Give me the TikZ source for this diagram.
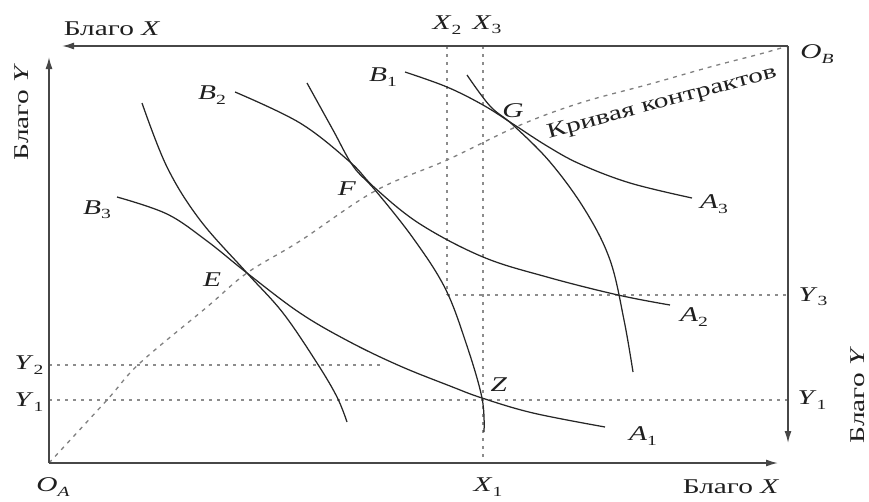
\documentclass[tikz,border=0pt]{standalone}
\usepackage{fontspec}
\setmainfont{Liberation Serif}[FakeStretch=1.4]
\usetikzlibrary{arrows.meta}
\newcommand{\lab}[2]{\textit{#1}\raisebox{-0.45ex}{\fontsize{14}{14}\selectfont #2}}
\begin{document}
\begin{tikzpicture}[x=1pt,y=-1pt,
  axis/.style={line width=1.5pt, draw=black!72, -{Latex[length=12pt,width=7pt]}},
  icurve/.style={line width=1.25pt, draw=black!85},
  guide/.style={line width=1.3pt, draw=black!45, dash pattern=on 3pt off 5pt},
  contract/.style={line width=1.3pt, draw=black!50, dash pattern=on 4pt off 5pt},
  lbl/.style={font=\fontsize{21}{21}\selectfont, inner sep=0pt, text=black!88},
]
\useasboundingbox (0,0) rectangle (869,501);
% corner coordinates
\coordinate (OA) at (49,463);
\coordinate (OB) at (788,46);
\coordinate (TXend) at (62,46);
\coordinate (LYend) at (49,57);
\coordinate (BXend) at (778,463);
\coordinate (RYend) at (788,443);
% guide coordinates
\coordinate (x2t) at (447,46);  \coordinate (x2b) at (447,295);
\coordinate (x3t) at (483,46);  \coordinate (x1b) at (483,463);
\coordinate (y3l) at (447,295); \coordinate (y3r) at (788,295);
\coordinate (y1l) at (49,400);  \coordinate (y1r) at (788,400);
\coordinate (y2l) at (49,365);  \coordinate (y2r) at (380,365);
% guides
\draw[guide] (x2t) -- (x2b);
\draw[guide] (x3t) -- (x1b);
\draw[guide] (y3l) -- (y3r);
\draw[guide] (y1l) -- (y1r);
\draw[guide] (y2l) -- (y2r);
% contract curve
\draw[contract] plot[smooth, tension=0.6] coordinates {(49,463) (107,400) (140,363) (207,307) (247,273) (300,241) (375,191) (447,160) (518,126) (580,103) (650,84) (710,67) (760,54) (788,46)};
% indifference curves
\draw[icurve] plot[smooth, tension=0.6] coordinates {(405,72) (447,87) (483,105) (513,124) (547,146) (580,164) (630,183) (692,198)};
\draw[icurve] plot[smooth, tension=0.6] coordinates {(467,75) (490,106) (513,125) (550,162) (585,210) (610,260) (624,320) (633,372)};
\draw[icurve] plot[smooth, tension=0.6] coordinates {(235,92) (300,123) (350,162) (375,188) (420,224) (483,257) (547,277) (618,295) (670,305)};
\draw[icurve] plot[smooth, tension=0.6] coordinates {(307,83) (333,130) (353,166) (375,190) (413,238) (445,288) (466,343) (482,398) (484,432)};
\draw[icurve] plot[smooth, tension=0.6] coordinates {(117,197) (167,214) (207,241) (247,273) (300,313) (350,342) (400,366) (450,386) (482,398) (533,413) (605,427)};
\draw[icurve] plot[smooth, tension=0.6] coordinates {(142,103) (167,167) (200,220) (247,273) (283,313) (317,363) (337,397) (347,422)};
% axes
\draw[axis] (OB) -- (TXend);
\draw[axis] (OA) -- (LYend);
\draw[axis] (OA) -- (BXend);
\draw[axis] (OB) -- (RYend);
% axis labels
\node[lbl] (tX) at (112,29) {Благо \textit{X}};
\node[lbl] (bX) at (731,487) {Благо \textit{X}};
\node[lbl, rotate=90] (lY) at (22,112) {Благо \textit{Y}};
\node[lbl, rotate=90] (rY) at (858,395) {Благо \textit{Y}};
\node[lbl, rotate=15, font=\fontsize{21}{21}\selectfont] (kc) at (662,103) {Кривая контрактов};
% point labels
\node[lbl] (OAl) at (53,487) {\lab{O}{\textit{A}}};
\node[lbl] (OBl) at (817,54) {\lab{O}{\textit{B}}};
\node[lbl] (X2l) at (447,25) {\lab{X}{2}};
\node[lbl] (X3l) at (487,25) {\lab{X}{3}};
\node[lbl] (X1l) at (488,487) {\lab{X}{1}};
\node[lbl] (Y2l) at (29,365) {\lab{Y}{2}};
\node[lbl] (Y1l) at (29,402) {\lab{Y}{1}};
\node[lbl] (Y3r) at (813,297) {\lab{Y}{3}};
\node[lbl] (Y1r) at (812,400) {\lab{Y}{1}};
\node[lbl] (B1l) at (383,77) {\lab{B}{1}};
\node[lbl] (B2l) at (212,95) {\lab{B}{2}};
\node[lbl] (B3l) at (97,210) {\lab{B}{3}};
\node[lbl] (A1l) at (643,436) {\lab{A}{1}};
\node[lbl] (A2l) at (694,317) {\lab{A}{2}};
\node[lbl] (A3l) at (714,204) {\lab{A}{3}};
\node[lbl] (Gl) at (513,111) {\textit{G}};
\node[lbl] (Fl) at (347,189) {\textit{F}};
\node[lbl] (El) at (212,280) {\textit{E}};
\node[lbl] (Zl) at (499,385) {\textit{Z}};
\end{tikzpicture}
\end{document}
